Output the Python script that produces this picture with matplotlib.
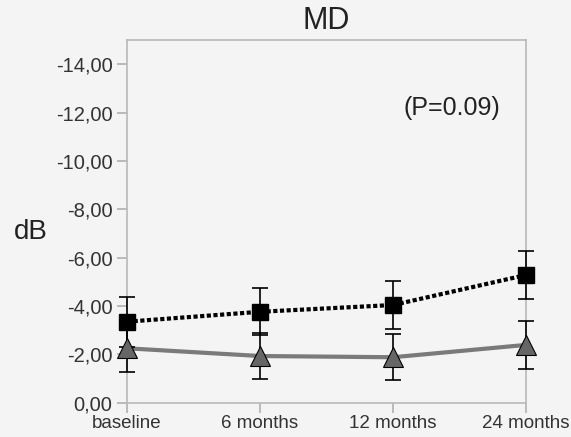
import matplotlib.pyplot as plt
from matplotlib.ticker import FuncFormatter

plt.rcParams['font.family'] = ['Liberation Sans', 'DejaVu Sans']

# time points and MD values (dB)
timepoints = ['baseline', '6 months', '12 months', '24 months']
md_square = [-3.35, -3.76, -4.04, -5.28]
err_square = [1.03, 0.97, 0.99, 1.0]
md_triangle = [-2.25, -1.93, -1.88, -2.39]
err_triangle = [0.97, 0.95, 0.95, 0.98]
y_ticks = [0, -2, -4, -6, -8, -10, -12, -14]

bg = '#f4f4f4'
fig = plt.figure(figsize=(5.71, 4.37), dpi=100, facecolor=bg)
ax = fig.add_axes([0.2224, 0.0785, 0.6988, 0.830])
ax.set_facecolor(bg)

x = list(range(len(timepoints)))

# gray solid line with triangles
ax.plot(x, md_triangle, color='#7a7a7a', linewidth=3, zorder=2, clip_on=False)
ax.errorbar(x, md_triangle, yerr=err_triangle, fmt='none', ecolor='black',
            elinewidth=1.2, capsize=6, capthick=1.2, zorder=3, clip_on=False)
ax.plot(x, md_triangle, linestyle='none', marker='^', markersize=14, clip_on=False,
        markerfacecolor='#666666', markeredgecolor='black', markeredgewidth=0.8, zorder=4)

# black dotted line with squares
ax.plot(x, md_square, color='black', linewidth=3, linestyle=(0, (1, 0.6)), zorder=2,
        clip_on=False)
ax.errorbar(x, md_square, yerr=err_square, fmt='none', ecolor='black',
            elinewidth=1.2, capsize=6, capthick=1.2, zorder=3, clip_on=False)
ax.plot(x, md_square, linestyle='none', marker='s', markersize=11, clip_on=False,
        markerfacecolor='black', markeredgecolor='black', zorder=4)

ax.set_xlim(0, 3)
ax.set_ylim(0, -15)
ax.set_xticks(x)
ax.set_xticklabels(timepoints)
ax.set_yticks(y_ticks)
ax.yaxis.set_major_formatter(FuncFormatter(lambda v, p: f'{v:.2f}'.replace('.', ',')))

for s in ax.spines.values():
    s.set_color('#b8b8b8')
    s.set_linewidth(1.2)
ax.tick_params(axis='both', colors='#b0b0b0', labelcolor='#333333', labelsize=14.5,
               length=7, width=1.2)
ax.tick_params(axis='x', pad=2, labelsize=13.5)

ax.set_title('MD', fontsize=22, color='#222222', pad=8)
fig.text(31 / 571, 1 - 232 / 437, 'dB', fontsize=20, color='#222222',
         ha='center', va='center')
ax.text(2.44, -12.2, '(P=0.09)', fontsize=18, color='#222222', ha='center', va='center')

fig.savefig('out.png', dpi=100, facecolor=bg)
